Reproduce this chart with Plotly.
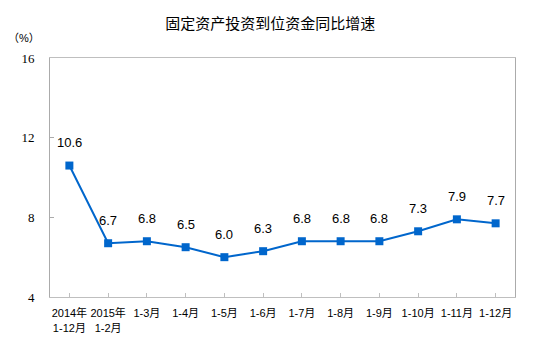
import plotly.graph_objects as go

categories = ["2014年<br>1-12月", "2015年<br>1-2月", "1-3月", "1-4月", "1-5月", "1-6月",
              "1-7月", "1-8月", "1-9月", "1-10月", "1-11月", "1-12月"]
values = [10.6, 6.7, 6.8, 6.5, 6.0, 6.3, 6.8, 6.8, 6.8, 7.3, 7.9, 7.7]
y_ticks = [4, 8, 12, 16]
title = "固定资产投资到位资金同比增速"
unit = "（%）"

blue = "#0066CC"
fig = go.Figure()
fig.add_trace(go.Scatter(
    x=list(range(len(categories))), y=values, mode="lines+markers",
    line=dict(color=blue, width=2),
    marker=dict(symbol="square", size=8, color=blue),
    hoverinfo="skip",
))
for i, v in enumerate(values):
    fig.add_annotation(x=i, y=v, text=f"{v:.1f}", showarrow=False, yshift=23,
                       font=dict(family="Liberation Sans, Arial", size=13, color="#000"))

fig.add_annotation(xref="paper", yref="paper", x=-0.018, y=1.082, text=unit, showarrow=False,
                   xanchor="right", yanchor="middle",
                   font=dict(family="Liberation Sans, Noto Sans CJK SC", size=11, color="#000"))

# page body has an 8px default margin, so the figure is sized to fit the window
fig.update_layout(
    width=545, height=354,
    margin=dict(l=41.5, r=38, t=50, b=65, autoexpand=False),
    paper_bgcolor="white", plot_bgcolor="white",
    showlegend=False,
    title=dict(text=title, x=0.481, xanchor="center", y=0.955, yanchor="middle",
               font=dict(family="Noto Sans CJK SC", size=15, color="#000"), automargin=False),
    xaxis=dict(
        tickmode="array", tickvals=list(range(len(categories))), ticktext=categories,
        range=[-0.5, len(categories) - 0.5], automargin=False,
        showgrid=False, zeroline=False,
        showline=True, linecolor="#BFBFBF", linewidth=1, mirror=True,
        ticks="inside", tickson="boundaries", ticklen=4, tickcolor="#BFBFBF",
        tickfont=dict(family="Liberation Sans, Noto Sans CJK SC", size=11, color="#000"),
        ticklabelstandoff=6,
    ),
    yaxis=dict(
        range=[4, 16], tickvals=y_ticks, automargin=False,
        showgrid=False, zeroline=False,
        showline=True, linecolor="#ABABAB", linewidth=1, mirror=True,
        ticks="inside", ticklen=4, tickcolor="#ABABAB",
        tickfont=dict(family="Liberation Serif", size=13, color="#000"),
        ticklabelstandoff=12,
    ),
)
fig.write_html("out.html")
